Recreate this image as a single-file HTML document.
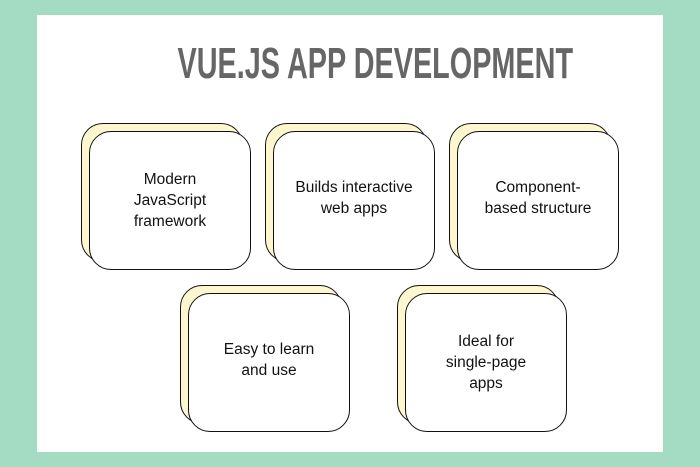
<!DOCTYPE html>
<html><head><style>
body{margin:0;width:700px;height:467px;background:#a3dbc3;position:relative;overflow:hidden;font-family:"Liberation Sans",sans-serif}
.panel{position:absolute;left:37px;top:15px;width:626px;height:437px;background:#fff}
.t{position:absolute;left:74px;top:41px;width:600px;text-align:center;font-weight:bold;font-size:44px;color:#666;white-space:nowrap;line-height:45px;transform:scaleX(0.655);transform-origin:50% 50%}
.b{position:absolute;width:162px;height:139px;border:1.5px solid #111;border-radius:22px;box-sizing:border-box}
.bk{background:#fdf7cf}
.fr{background:#fff;display:flex;align-items:center;justify-content:center;text-align:center;font-size:15.5px;line-height:21px;color:#111}
</style></head><body>
<div class="panel"></div>
<div class="t">VUE.JS APP DEVELOPMENT</div>

<div class="b bk" style="left:81px;top:123px"></div>
<div class="b fr" style="left:89px;top:131px">Modern<br>JavaScript<br>framework</div>

<div class="b bk" style="left:265px;top:123px"></div>
<div class="b fr" style="left:273px;top:131px;padding-bottom:6px">Builds interactive<br>web apps</div>

<div class="b bk" style="left:449px;top:123px"></div>
<div class="b fr" style="left:457px;top:131px;padding-bottom:6px">Component-<br>based structure</div>

<div class="b bk" style="left:180px;top:285px"></div>
<div class="b fr" style="left:188px;top:293px;padding-bottom:6px">Easy to learn<br>and use</div>

<div class="b bk" style="left:397px;top:285px"></div>
<div class="b fr" style="left:405px;top:293px">Ideal for<br>single-page<br>apps</div>
</body></html>
